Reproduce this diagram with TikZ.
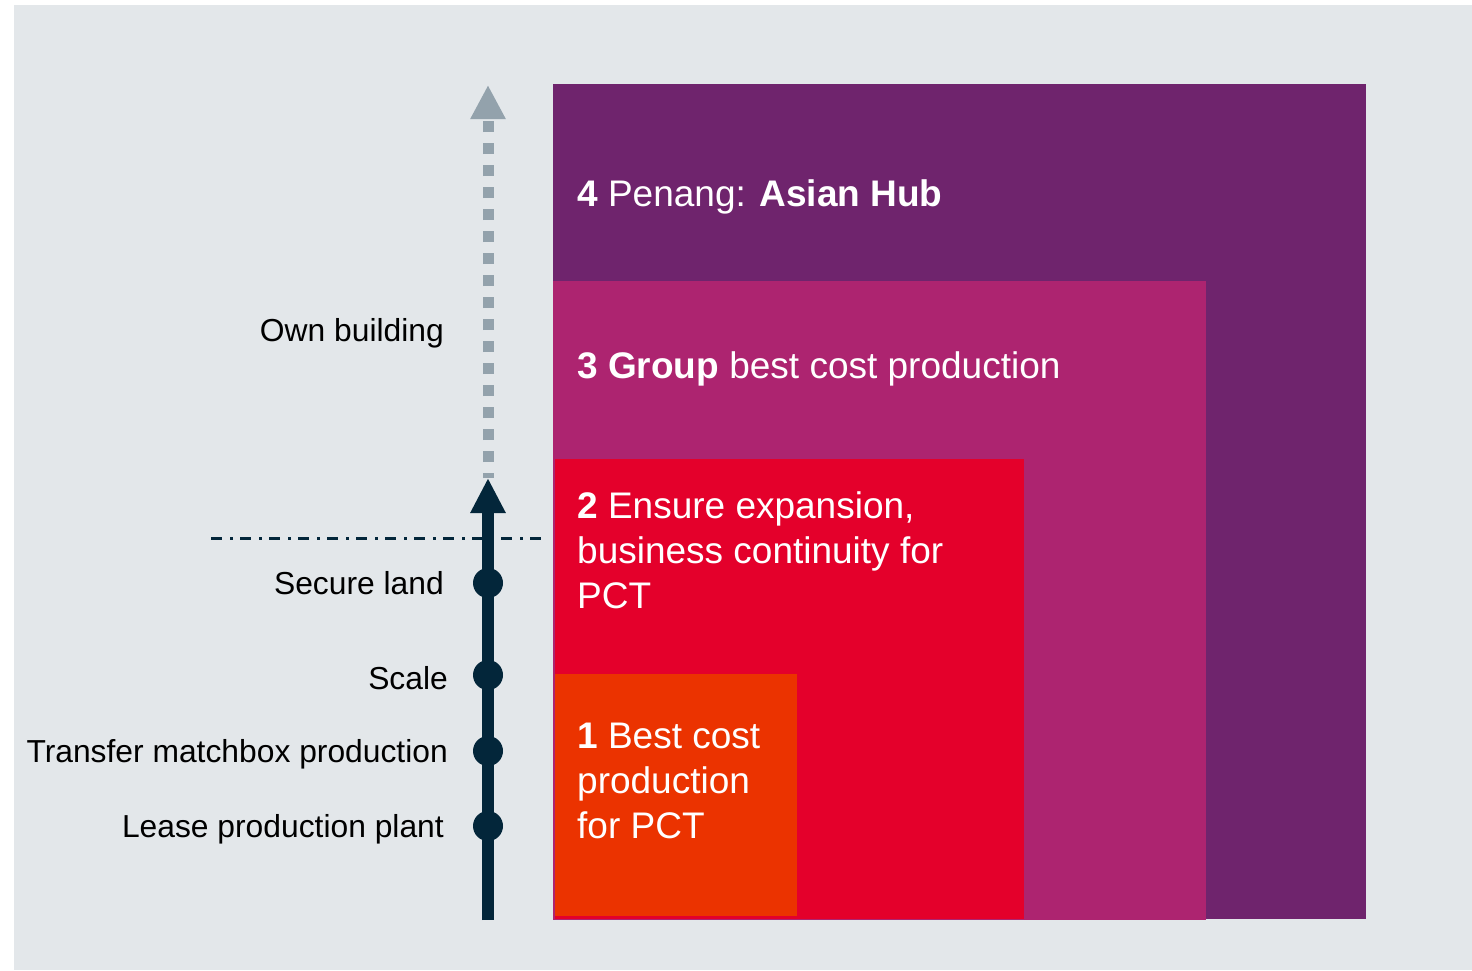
\documentclass[tikz,border=0pt]{standalone}
\usepackage{fontspec}
\setmainfont{Liberation Sans}
\usetikzlibrary{arrows.meta}
\definecolor{bg}{HTML}{E3E7EA}
\definecolor{navy}{HTML}{03263A}
\definecolor{arrowgray}{HTML}{93A2AC}
\definecolor{purp}{HTML}{6F246D}
\definecolor{pinkc}{HTML}{AD2470}
\definecolor{redc}{HTML}{E4002B}
\definecolor{orangec}{HTML}{EB3300}
\begin{document}
\begin{tikzpicture}[x=1pt,y=-1pt,
  sidelabel/.style={anchor=base east, inner sep=0pt, text=black, font=\fontsize{31.8}{38}\selectfont},
  boxlabel/.style={anchor=base west, inner sep=0pt, text=white, align=left, font=\fontsize{37}{45}\selectfont},
  milestone/.style={circle, fill=navy, minimum size=30pt, inner sep=0pt},
]
\useasboundingbox (0,0) rectangle (1472,970);
\fill[white] (0,0) rectangle (1472,970);
\fill[bg] (14,5) rectangle (1472,970);

% stage rectangles
\fill[purp] (553,84) rectangle (1366,919);
\fill[pinkc] (553,281) rectangle (1206,920);
\fill[redc] (555,459) rectangle (1024,919);
\fill[orangec] (555,674) rectangle (797,916);

% box labels (base anchor = baseline of last line)
\node[boxlabel] (l4) at (577,206) {\textbf{4} Penang: \textbf{Asian Hub}};
\node[boxlabel] (l3) at (577,378) {\textbf{3 Group} best cost production};
\node[boxlabel] (l2) at (577,608) {\textbf{2} Ensure expansion,\\business continuity for\\PCT};
\node[boxlabel] (l1) at (577,838) {\textbf{1} Best cost\\production\\for PCT};

% threshold line
\coordinate (thL) at (211,538);
\coordinate (thR) at (545,538);
\draw[navy, line width=3pt, dash pattern=on 11pt off 8pt on 2.5pt off 7.5pt] (thL) -- (thR);

% arrows
\coordinate (base) at (488,920);
\coordinate (soltip) at (488,478);
\coordinate (dashtip) at (488,85);
\draw[arrowgray, line width=11pt, dash pattern=on 11pt off 11pt, dash phase=6pt,
  -{Triangle[width=33pt,length=34pt]}] (soltip) -- (dashtip);
\draw[navy, line width=12pt, -{Triangle[width=33pt,length=35pt]}] (base) -- (soltip);

% milestones
\node[milestone] (m1) at (488,583) {};
\node[milestone] (m2) at (488,675) {};
\node[milestone] (m3) at (488,751) {};
\node[milestone] (m4) at (488,826) {};

% side labels
\node[sidelabel] (own) at (444,341) {Own building};
\node[sidelabel] (secure) at (444,594) {Secure land};
\node[sidelabel] (scale) at (448,689) {Scale};
\node[sidelabel] (transfer) at (448,762) {Transfer matchbox production};
\node[sidelabel] (lease) at (444,837) {Lease production plant};
\end{tikzpicture}
\end{document}
